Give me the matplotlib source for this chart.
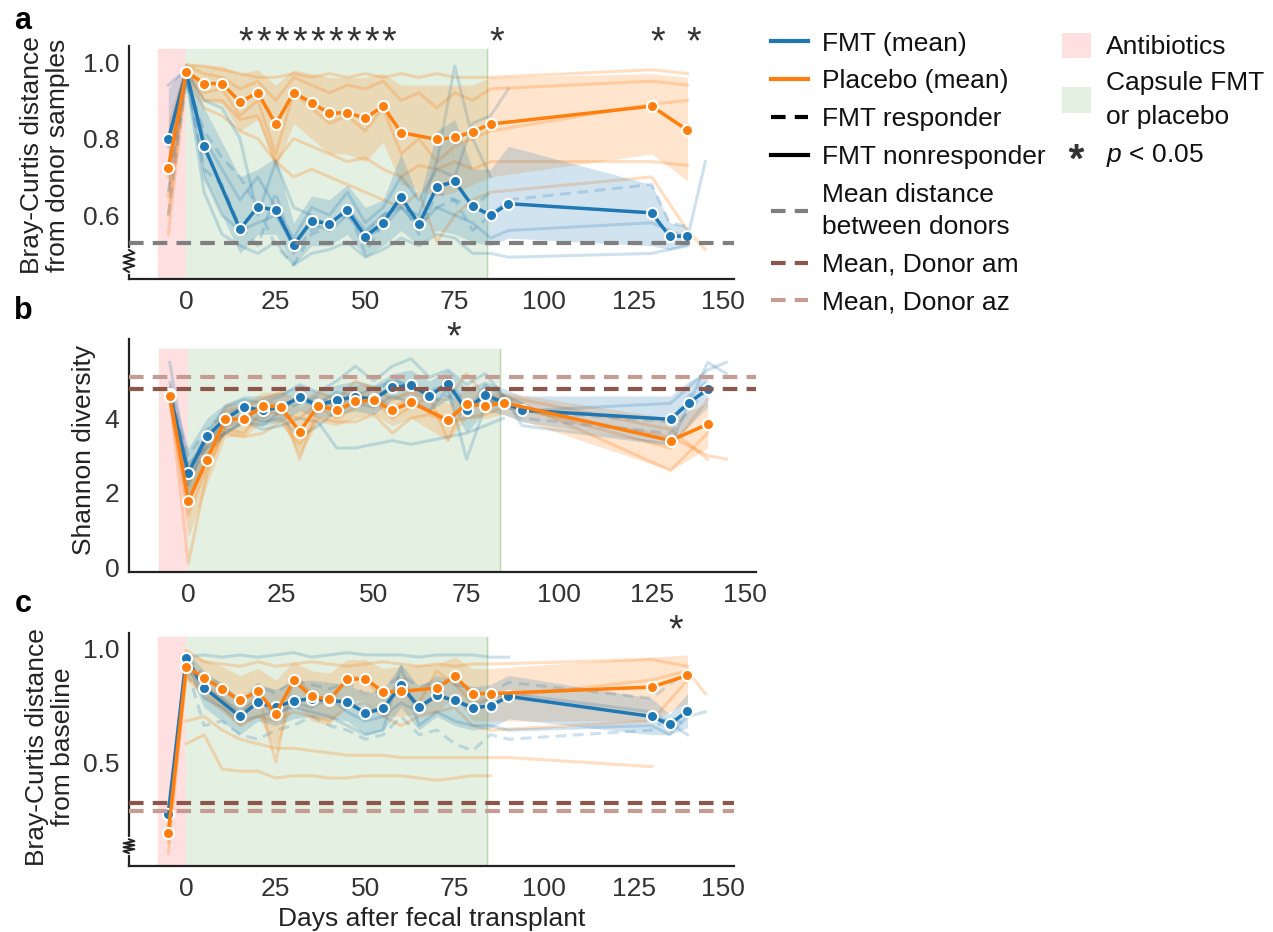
import numpy as np
import matplotlib
matplotlib.use("Agg")
import matplotlib.pyplot as plt
import matplotlib.transforms as mtransforms
from matplotlib.lines import Line2D
from matplotlib.patches import Patch

plt.rcParams['font.family'] = ['Liberation Sans', 'DejaVu Sans']
plt.rcParams['mathtext.fontset'] = 'custom'
plt.rcParams['mathtext.rm'] = 'Liberation Sans'
plt.rcParams['mathtext.it'] = 'Liberation Sans:italic'

BLUE = "#1f77b4"
ORANGE = "#ff7f0e"
GRAY = "#7f7f7f"
DONOR_AM = "#8c564b"
DONOR_AZ = "#c49c94"
PINK = "#ffe0e0"
GREEN = "#e4f0e1"

# ---------------- panel a: distance from donor samples ----------------
A_FMT_DAYS = [-5, 0, 5, 15, 20, 25, 30, 35, 40, 45, 50, 55, 60, 65, 70, 75, 80, 85, 90, 130, 135, 140]
A_FMT_MEAN = [0.798, 0.975, 0.78, 0.563, 0.622, 0.613, 0.522, 0.585, 0.578, 0.613, 0.544, 0.58, 0.648,
              0.576, 0.674, 0.688, 0.623, 0.60, 0.63, 0.606, 0.545, 0.545]
A_FMT_LO = [0.66, 0.95, 0.70, 0.50, 0.55, 0.55, 0.47, 0.52, 0.52, 0.55, 0.49, 0.52, 0.56, 0.52, 0.56,
            0.55, 0.53, 0.52, 0.54, 0.52, 0.51, 0.52]
A_FMT_HI = [0.93, 1.0, 0.88, 0.70, 0.72, 0.75, 0.58, 0.65, 0.64, 0.68, 0.62, 0.64, 0.76, 0.64, 0.82,
            0.85, 0.72, 0.72, 0.78, 0.68, 0.58, 0.57]
A_PL_DAYS = [-5, 0, 5, 10, 15, 20, 25, 30, 35, 40, 45, 50, 55, 60, 70, 75, 80, 85, 130, 140]
A_PL_MEAN = [0.723, 0.975, 0.944, 0.944, 0.896, 0.92, 0.838, 0.92, 0.894, 0.866, 0.868, 0.853, 0.885,
             0.816, 0.798, 0.803, 0.818, 0.838, 0.885, 0.822]
A_PL_LO = [0.60, 0.96, 0.90, 0.89, 0.82, 0.85, 0.72, 0.84, 0.80, 0.76, 0.76, 0.74, 0.79, 0.68, 0.65,
           0.66, 0.68, 0.70, 0.76, 0.69]
A_PL_HI = [0.85, 1.0, 0.99, 0.99, 0.97, 0.98, 0.94, 0.98, 0.97, 0.96, 0.96, 0.96, 0.97, 0.94, 0.94,
           0.94, 0.94, 0.96, 0.97, 0.96]
D = [-5, 0, 5, 10, 15, 20, 25, 30, 35, 40, 45, 50, 55, 60, 65, 70, 75, 80, 85]
A_FMT_RESP = [
    (D, [0.66, 0.96, 0.72, 0.68, 0.57, 0.52, 0.66, 0.50, 0.56, 0.58, 0.60, 0.55, 0.60, 0.63, 0.59, 0.62, 0.64, 0.62, 0.66]),
    (D + [90, 130, 135, 140], [0.60, 0.95, 0.82, 0.75, 0.70, 0.62, 0.52, 0.47, 0.55, 0.57, 0.62, 0.50, 0.58, 0.64, 0.55,
                               0.66, 0.64, 0.56, 0.60, 0.64, 0.68, 0.58, 0.57]),
]
A_FMT_NONRESP = [
    (D, [0.94, 0.98, 0.90, 0.88, 0.80, 0.60, 0.74, 0.62, 0.60, 0.57, 0.62, 0.56, 0.60, 0.62, 0.60, 0.74, 0.99, 0.80, 0.70]),
    (D + [90], [0.72, 0.97, 0.80, 0.72, 0.64, 0.70, 0.62, 0.54, 0.62, 0.60, 0.66, 0.58, 0.62, 0.70, 0.64, 0.72, 0.70,
                0.84, 0.86, 0.93]),
    (D + [90, 130, 140, 145], [0.78, 0.97, 0.70, 0.60, 0.56, 0.58, 0.60, 0.52, 0.58, 0.56, 0.60, 0.54, 0.57, 0.62, 0.57,
                               0.62, 0.60, 0.58, 0.54, 0.56, 0.58, 0.54, 0.74]),
    (D[1:] + [90, 130, 140], [0.96, 0.66, 0.55, 0.52, 0.50, 0.53, 0.47, 0.50, 0.51, 0.53, 0.49, 0.51, 0.54, 0.52, 0.55,
                              0.54, 0.50, 0.50, 0.49, 0.50, 0.52]),
]
A_PLACEBO = [
    (D + [130, 140], [0.80, 0.99, 0.99, 0.98, 0.97, 0.96, 0.96, 0.97, 0.96, 0.97, 0.96, 0.97, 0.96, 0.97, 0.96, 0.97,
                      0.96, 0.96, 0.96, 0.98, 0.97]),
    (D + [130, 140], [0.70, 0.99, 0.97, 0.96, 0.93, 0.95, 0.90, 0.96, 0.94, 0.92, 0.94, 0.93, 0.95, 0.90, 0.92, 0.88,
                      0.92, 0.90, 0.93, 0.95, 0.94]),
    (D + [130, 140], [0.65, 0.98, 0.92, 0.93, 0.86, 0.90, 0.76, 0.92, 0.88, 0.84, 0.86, 0.82, 0.88, 0.76, 0.80, 0.74,
                      0.78, 0.80, 0.82, 0.89, 0.90]),
    (D + [130, 140], [0.60, 0.97, 0.90, 0.90, 0.85, 0.86, 0.74, 0.80, 0.78, 0.76, 0.74, 0.75, 0.72, 0.70, 0.73, 0.72,
                      0.74, 0.72, 0.74, 0.74, 0.73]),
    (D + [130, 140, 145], [0.55, 0.96, 0.88, 0.86, 0.82, 0.80, 0.74, 0.70, 0.72, 0.70, 0.68, 0.66, 0.64, 0.62, 0.66,
                           0.53, 0.60, 0.64, 0.66, 0.70, 0.56, 0.51]),
]
A_DONOR_MEAN = 0.527
A_STARS = [15, 20, 25, 30, 35, 40, 45, 50, 55, 85, 130, 140]

# ---------------- panel b: Shannon diversity ----------------
B_FMT_DAYS = [-5, 0, 5, 10, 15, 20, 25, 30, 35, 40, 45, 50, 55, 60, 65, 70, 75, 80, 85, 90, 130, 135, 140]
B_FMT_MEAN = [4.65, 2.53, 3.52, 3.98, 4.30, 4.21, 4.30, 4.56, 4.35, 4.49, 4.58, 4.51, 4.84, 4.88, 4.61,
              4.93, 4.22, 4.63, 4.42, 4.22, 3.97, 4.42, 4.78]
B_FMT_LO = [4.2, 1.9, 3.0, 3.6, 3.9, 3.8, 3.9, 4.2, 4.0, 4.1, 4.2, 4.1, 4.5, 4.5, 4.2, 4.5, 3.6, 4.2,
            4.1, 3.9, 3.3, 3.8, 4.3]
B_FMT_HI = [5.0, 3.2, 4.0, 4.4, 4.6, 4.6, 4.7, 4.9, 4.7, 4.9, 5.0, 4.9, 5.2, 5.3, 5.0, 5.3, 4.8, 5.0,
            4.8, 4.6, 4.6, 5.0, 5.2]
B_PL_DAYS = [-5, 0, 5, 10, 15, 20, 25, 30, 35, 40, 45, 50, 55, 60, 70, 75, 80, 85, 130, 140]
B_PL_MEAN = [4.61, 1.77, 2.88, 3.98, 3.98, 4.33, 4.30, 3.64, 4.34, 4.21, 4.45, 4.49, 4.21, 4.43, 3.94,
             4.39, 4.33, 4.42, 3.40, 3.84]
B_PL_LO = [4.3, 0.8, 2.2, 3.5, 3.5, 3.9, 3.9, 3.0, 3.9, 3.8, 4.0, 4.1, 3.8, 4.0, 3.4, 4.0, 4.0, 4.1,
           2.6, 3.2]
B_PL_HI = [4.9, 2.8, 3.5, 4.4, 4.4, 4.7, 4.7, 4.3, 4.7, 4.6, 4.9, 4.9, 4.6, 4.8, 4.4, 4.8, 4.7, 4.7,
           4.0, 4.4]
B_FMT_RESP = [
    (D + [90, 130, 135, 140], [5.0, 2.2, 3.3, 3.9, 4.1, 4.2, 4.4, 4.5, 4.3, 4.6, 4.4, 4.5, 4.8, 4.9, 4.5, 4.6, 4.3,
                               4.6, 4.3, 4.2, 3.9, 4.6, 5.0]),
    (D + [90, 130, 140], [4.6, 3.0, 3.7, 4.1, 4.3, 4.0, 4.2, 4.4, 4.6, 4.3, 4.7, 4.6, 5.1, 4.8, 4.7, 5.0, 4.4, 4.5,
                          4.4, 4.0, 3.6, 4.8]),
]
B_FMT_NONRESP = [
    (D + [90], [5.5, 2.6, 3.6, 4.3, 4.5, 4.4, 4.6, 4.9, 4.7, 5.0, 5.4, 5.0, 5.4, 5.6, 5.1, 5.3, 4.9, 5.2, 4.6, 4.4]),
    (D + [90, 130, 140, 145], [4.5, 2.2, 3.5, 3.8, 4.1, 3.9, 4.0, 3.5, 3.8, 4.2, 4.4, 4.3, 4.6, 4.4, 4.2, 4.8, 2.9,
                               4.3, 4.6, 3.8, 3.3, 5.5, 5.2]),
    (D + [90, 130, 140, 145], [4.8, 2.5, 3.4, 3.6, 3.9, 3.8, 4.2, 4.6, 4.4, 4.7, 4.6, 4.8, 5.0, 4.9, 4.6, 5.0, 4.1,
                               4.9, 4.6, 4.2, 4.4, 5.3, 5.5]),
    (D[1:], [2.8, 3.2, 3.6, 3.9, 3.7, 3.8, 4.0, 3.9, 3.2, 3.2, 3.3, 3.4, 3.3, 3.4, 3.5, 3.6, 3.8, 4.0]),
]
B_PLACEBO = [
    (D + [130, 140], [4.6, 0.1, 2.5, 3.8, 3.9, 4.4, 4.4, 2.9, 4.3, 4.0, 4.3, 4.5, 4.0, 4.3, 4.6, 3.4, 4.5, 4.3, 4.6,
                      2.6, 3.6]),
    (D + [130, 140], [4.4, 1.4, 2.7, 3.7, 3.6, 4.2, 4.1, 4.0, 4.4, 4.3, 4.6, 4.6, 4.3, 4.5, 4.2, 4.0, 4.4, 4.3, 4.4,
                      3.2, 4.5]),
    (D + [130, 140], [4.8, 2.3, 3.2, 4.2, 4.3, 4.5, 4.7, 4.4, 4.7, 4.5, 5.0, 4.8, 4.5, 4.7, 4.5, 4.5, 5.2, 4.6, 4.6,
                      3.7, 2.9]),
    (D + [130, 140, 145], [4.7, 2.0, 3.0, 3.6, 3.5, 3.6, 3.9, 3.3, 4.0, 3.9, 3.9, 4.1, 3.6, 4.0, 4.1, 3.9, 4.0, 4.1,
                           4.3, 3.5, 3.0, 2.9]),
]
B_DONOR_AM = 4.78
B_DONOR_AZ = 5.11
B_STARS = [70]

# ---------------- panel c: distance from baseline ----------------
C_FMT_DAYS = [-5, 0, 5, 15, 20, 25, 30, 35, 40, 45, 50, 55, 60, 65, 70, 75, 80, 85, 90, 130, 135, 140]
C_FMT_MEAN = [0.27, 0.956, 0.826, 0.70, 0.762, 0.741, 0.768, 0.778, 0.77, 0.763, 0.715, 0.735, 0.836,
              0.741, 0.792, 0.77, 0.738, 0.746, 0.788, 0.70, 0.665, 0.724]
C_FMT_LO = [0.22, 0.92, 0.74, 0.62, 0.68, 0.66, 0.69, 0.70, 0.69, 0.68, 0.62, 0.64, 0.74, 0.64, 0.70,
            0.66, 0.64, 0.65, 0.69, 0.62, 0.62, 0.65]
C_FMT_HI = [0.32, 0.99, 0.90, 0.78, 0.84, 0.82, 0.85, 0.86, 0.85, 0.84, 0.80, 0.82, 0.93, 0.83, 0.88,
            0.86, 0.83, 0.84, 0.88, 0.78, 0.71, 0.80]
C_PL_DAYS = [-5, 0, 5, 10, 15, 20, 25, 30, 35, 40, 45, 50, 55, 60, 70, 75, 80, 85, 130, 140]
C_PL_MEAN = [0.189, 0.917, 0.87, 0.82, 0.77, 0.811, 0.712, 0.858, 0.788, 0.775, 0.863, 0.866, 0.808,
             0.81, 0.825, 0.876, 0.80, 0.80, 0.829, 0.88]
C_PL_LO = [0.12, 0.86, 0.78, 0.72, 0.66, 0.70, 0.56, 0.76, 0.68, 0.66, 0.77, 0.77, 0.70, 0.70, 0.72,
           0.79, 0.68, 0.68, 0.68, 0.76]
C_PL_HI = [0.26, 0.97, 0.95, 0.92, 0.88, 0.91, 0.86, 0.94, 0.90, 0.89, 0.95, 0.95, 0.91, 0.92, 0.93,
           0.96, 0.91, 0.91, 0.96, 0.97]
C_FMT_RESP = [
    (D + [90, 130, 135, 140], [0.26, 0.92, 0.66, 0.68, 0.62, 0.60, 0.64, 0.66, 0.70, 0.66, 0.64, 0.60, 0.62, 0.70,
                               0.62, 0.64, 0.58, 0.55, 0.62, 0.60, 0.64, 0.70, 0.66]),
    (D + [90, 130, 140], [0.28, 0.96, 0.88, 0.84, 0.76, 0.84, 0.80, 0.86, 0.84, 0.82, 0.85, 0.80, 0.82, 0.88, 0.83,
                          0.85, 0.84, 0.82, 0.80, 0.85, 0.78, 0.90]),
]
C_FMT_NONRESP = [
    (D[1:] + [90], [0.96, 0.97, 0.96, 0.97, 0.96, 0.97, 0.98, 0.96, 0.97, 0.98, 0.97, 0.97, 0.97, 0.96, 0.97, 0.97,
                    0.97, 0.96, 0.96]),
    (D + [90, 130, 135, 140, 145], [0.25, 0.94, 0.78, 0.74, 0.68, 0.70, 0.72, 0.74, 0.72, 0.70, 0.66, 0.62, 0.64,
                                    0.92, 0.66, 0.72, 0.68, 0.66, 0.66, 0.64, 0.66, 0.62, 0.70, 0.72]),
    (D + [90, 130, 140], [0.30, 0.95, 0.82, 0.78, 0.72, 0.78, 0.70, 0.76, 0.74, 0.78, 0.72, 0.68, 0.70, 0.76, 0.72,
                          0.80, 0.76, 0.74, 0.78, 0.80, 0.72, 0.62]),
]
C_PLACEBO = [
    (D[1:], [0.58, 0.62, 0.47, 0.46, 0.46, 0.43, 0.44, 0.44, 0.43, 0.43, 0.44, 0.44, 0.44, 0.43, 0.42, 0.43, 0.44,
             0.44]),
    (D[1:] + [90, 130], [0.68, 0.70, 0.64, 0.60, 0.58, 0.56, 0.56, 0.55, 0.54, 0.53, 0.53, 0.53, 0.52, 0.52, 0.52,
                         0.52, 0.52, 0.52, 0.52, 0.48]),
    (D + [130, 140], [0.15, 0.99, 0.94, 0.93, 0.92, 0.94, 0.92, 0.93, 0.94, 0.93, 0.92, 0.93, 0.94, 0.93, 0.92, 0.93,
                      0.92, 0.93, 0.93, 0.95, 0.92]),
    (D + [130, 140, 145], [0.10, 0.90, 0.84, 0.78, 0.70, 0.80, 0.50, 0.88, 0.80, 0.74, 0.88, 0.86, 0.78, 0.80, 0.76,
                           0.90, 0.84, 0.76, 0.78, 0.86, 0.90, 0.80]),
    (D + [130, 140], [0.20, 0.88, 0.80, 0.74, 0.66, 0.70, 0.68, 0.72, 0.70, 0.68, 0.74, 0.76, 0.70, 0.66, 0.70, 0.72,
                      0.74, 0.66, 0.64, 0.68, 0.86]),
]
C_DONOR_AM = 0.32
C_DONOR_AZ = 0.285
C_STARS = [135]

ANTIBIOTIC_DAYS = (-8, 0)
CAPSULE_DAYS = (0, 84)
XTICKS = [0, 25, 50, 75, 100, 125, 150]

DASH = (0, (3.5, 2.2))
FS = 19


def draw_panel(ax, fmt, placebo, resp, nonresp, pl_subj, ylim, span_top, star_y, stars):
    ax.axvspan(*ANTIBIOTIC_DAYS, ymax=span_top, color=PINK, zorder=0)
    ax.axvspan(*CAPSULE_DAYS, ymax=span_top, color=GREEN, zorder=0)
    ax.axvline(CAPSULE_DAYS[1], ymax=span_top, color="#b9d8b0", lw=1, zorder=0)

    for days, vals in pl_subj:
        ax.plot(days, vals, color=ORANGE, alpha=0.25, lw=2.2, zorder=1)
    for days, vals in nonresp:
        ax.plot(days, vals, color=BLUE, alpha=0.22, lw=2.2, zorder=1)
    for days, vals in resp:
        ax.plot(days, vals, color=BLUE, alpha=0.22, lw=2.2, ls=DASH, zorder=1)

    for (days, mean, lo, hi), col in zip([placebo, fmt], [ORANGE, BLUE]):
        ax.fill_between(days, lo, hi, color=col, alpha=0.2, lw=0, zorder=2)
    for (days, mean, lo, hi), col in zip([fmt, placebo], [BLUE, ORANGE]):
        ax.plot(days, mean, color=col, lw=2.5, marker="o", ms=8, mec="white", mew=1.5, zorder=4)

    # asterisks sit a little right of their time point, as in the original
    star_tr = mtransforms.offset_copy(ax.transData, fig=ax.figure, x=6, y=0, units="dots")
    for s in stars:
        ax.text(s, star_y, "*", ha="center", va="center", fontsize=27, color="#333333",
                clip_on=False, transform=star_tr)

    ax.set_xlim(-16, 153)
    ax.set_ylim(*ylim)
    ax.set_xticks(XTICKS)
    for side in ["top", "right"]:
        ax.spines[side].set_visible(False)
    for side in ["left", "bottom"]:
        ax.spines[side].set_linewidth(1.6)
        ax.spines[side].set_color("#222222")
    ax.tick_params(length=0, labelsize=FS, pad=7, colors="#333333")
    ax.tick_params(axis="x", pad=8)


def add_break(ax, y0, y1):
    ax.plot([0, 0], [y0, y1], color="white", lw=3, transform=ax.transAxes, clip_on=False, zorder=6)
    ys = np.linspace(y0, y1, 8)
    xs = [0, -0.009, 0.009, -0.009, 0.009, -0.009, 0.009, 0]
    ax.plot(xs, ys, color="#222222", lw=1.4, transform=ax.transAxes, clip_on=False, zorder=7)


fig = plt.figure(figsize=(12.73, 9.32), dpi=100)
ax_a = fig.add_axes([0.1013, 0.7006, 0.4753, 0.25])
ax_b = fig.add_axes([0.1013, 0.3863, 0.4925, 0.25])
ax_c = fig.add_axes([0.1013, 0.0708, 0.4753, 0.25])

draw_panel(ax_a, (A_FMT_DAYS, A_FMT_MEAN, A_FMT_LO, A_FMT_HI), (A_PL_DAYS, A_PL_MEAN, A_PL_LO, A_PL_HI),
           A_FMT_RESP, A_FMT_NONRESP, A_PLACEBO, (0.433, 1.042), 0.987, 1.05, A_STARS)
ax_a.axhline(A_DONOR_MEAN, color=GRAY, lw=3, ls=DASH, zorder=5)
ax_a.set_yticks([0.6, 0.8, 1.0])
add_break(ax_a, 0.03, 0.125)

draw_panel(ax_b, (B_FMT_DAYS, B_FMT_MEAN, B_FMT_LO, B_FMT_HI), (B_PL_DAYS, B_PL_MEAN, B_PL_LO, B_PL_HI),
           B_FMT_RESP, B_FMT_NONRESP, B_PLACEBO, (-0.13, 6.13), 0.957, 6.16, B_STARS)
ax_b.axhline(B_DONOR_AZ, color=DONOR_AZ, lw=3, ls=DASH, zorder=5)
ax_b.axhline(B_DONOR_AM, color=DONOR_AM, lw=3, ls=DASH, zorder=5)
ax_b.set_yticks([0, 2, 4])

draw_panel(ax_c, (C_FMT_DAYS, C_FMT_MEAN, C_FMT_LO, C_FMT_HI), (C_PL_DAYS, C_PL_MEAN, C_PL_LO, C_PL_HI),
           C_FMT_RESP, C_FMT_NONRESP, C_PLACEBO, (0.044, 1.066), 0.983, 1.075, C_STARS)
ax_c.axhline(C_DONOR_AM, color=DONOR_AM, lw=3, ls=DASH, zorder=5)
ax_c.axhline(C_DONOR_AZ, color=DONOR_AZ, lw=3, ls=DASH, zorder=5)
ax_c.set_yticks([0.5, 1.0])
add_break(ax_c, 0.055, 0.115)
ax_c.set_xlabel("Days after fecal transplant", fontsize=FS, color="#222222", labelpad=4)

ax_a.text(-0.139, 0.53, "Bray-Curtis distance\nfrom donor samples", transform=ax_a.transAxes, rotation=90,
          ha="center", va="center", fontsize=FS, color="#222222", linespacing=1.1)
ax_b.text(-0.072, 0.524, "Shannon diversity", transform=ax_b.transAxes, rotation=90,
          ha="center", va="center", fontsize=FS, color="#222222")
ax_c.text(-0.13, 0.51, "Bray-Curtis distance\nfrom baseline", transform=ax_c.transAxes, rotation=90,
          ha="center", va="center", fontsize=FS, color="#222222", linespacing=1.1)

for letter, y in [("a", 0.978), ("b", 0.666), ("c", 0.352)]:
    fig.text(0.018, y, letter, fontsize=22, fontweight="bold", ha="center", va="center")

handles1 = [
    Line2D([], [], color=BLUE, lw=3),
    Line2D([], [], color=ORANGE, lw=3),
    Line2D([], [], color="black", lw=3, ls=DASH),
    Line2D([], [], color="black", lw=3),
    Line2D([], [], color=GRAY, lw=3, ls=DASH),
    Line2D([], [], color=DONOR_AM, lw=3, ls=DASH),
    Line2D([], [], color=DONOR_AZ, lw=3, ls=DASH),
]
labels1 = ["FMT (mean)", "Placebo (mean)", "FMT responder", "FMT nonresponder",
           "Mean distance\nbetween donors", "Mean, Donor am", "Mean, Donor az"]
leg1 = fig.legend(handles1, labels1, loc="upper left", bbox_to_anchor=(0.606, 0.966), frameon=False,
                  fontsize=FS, handlelength=1.4, handletextpad=0.5, labelspacing=0.52, borderpad=0,
                  borderaxespad=0)
for t in leg1.get_texts():
    t.set_linespacing(1.45)
    t.set_color("#111111")

handles2 = [
    Patch(facecolor=PINK, edgecolor="none"),
    Patch(facecolor=GREEN, edgecolor="none"),
    Line2D([], [], marker="$*$", color="#333333", ls="none", ms=10),
]
labels2 = ["Antibiotics", "Capsule FMT\nor placebo", r"$p$ < 0.05"]
leg2 = fig.legend(handles2, labels2, loc="upper left", bbox_to_anchor=(0.834, 0.965), frameon=False,
                  fontsize=FS, handlelength=1.12, handleheight=1.12, handletextpad=0.55, labelspacing=0.42,
                  borderpad=0, borderaxespad=0)
for t in leg2.get_texts():
    t.set_linespacing(1.55)
    t.set_color("#111111")

fig.savefig("out.png", dpi=100)
